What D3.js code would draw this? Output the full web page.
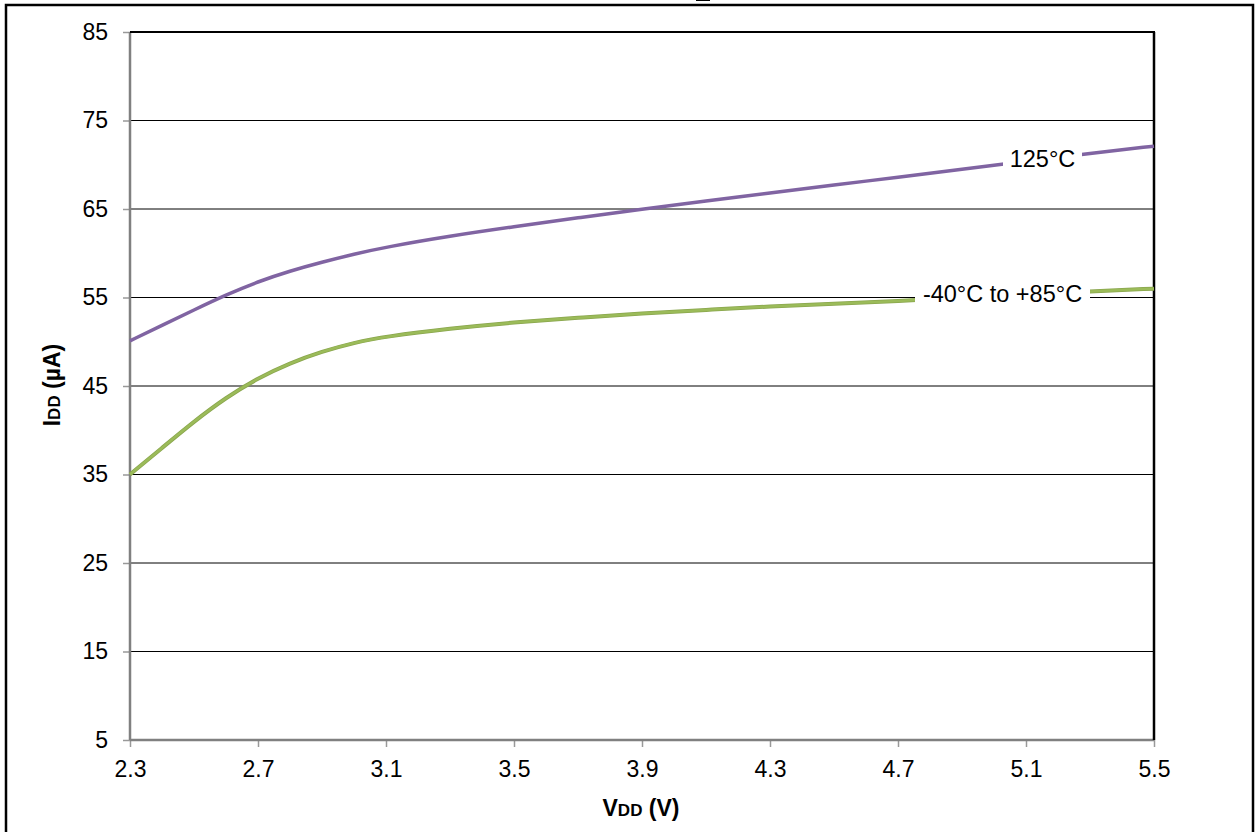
<!DOCTYPE html>
<html><head><meta charset="utf-8">
<script src="https://cdn.jsdelivr.net/npm/d3@7"></script>
<style>body{margin:0;background:#fff}svg{display:block}text{font-family:"Liberation Sans",Arial,sans-serif}</style>
</head><body><svg id="c" width="1256" height="832"></svg>
<script>
const vdd = [2.3, 2.4, 2.5, 2.6, 2.7, 2.8, 2.9, 3.0, 3.1, 3.3, 3.5, 3.7, 3.9, 4.1, 4.3, 4.5, 4.7, 4.9, 5.1, 5.3, 5.5];
const idd125 = [50.1, 51.85, 53.6, 55.3, 56.8, 58.0, 59.0, 59.9, 60.7, 61.95, 63.0, 64.0, 65.0, 65.9, 66.8, 67.7, 68.6, 69.5, 70.4, 71.3, 72.1];
const iddLow = [35.0, 38.0, 41.0, 43.7, 45.9, 47.6, 48.9, 49.9, 50.6, 51.5, 52.2, 52.7, 53.2, 53.6, 54.0, 54.3, 54.6, 55.0, 55.3, 55.7, 56.0];
const xTicks = [2.3, 2.7, 3.1, 3.5, 3.9, 4.3, 4.7, 5.1, 5.5];
const yTicks = [5, 15, 25, 35, 45, 55, 65, 75, 85];

const svg = d3.select("#c");
const L = 130, R = 1154, T = 32, B = 740;
const x = d3.scaleLinear().domain([2.3, 5.5]).range([L, R]);
const y = d3.scaleLinear().domain([5, 85]).range([B, T]);

// outer frame
svg.append("rect").attr("x", 6).attr("y", 5).attr("width", 1247).attr("height", 832)
  .attr("fill", "none").attr("stroke", "#000").attr("stroke-width", 2.5);
svg.append("rect").attr("x", 696).attr("y", -2).attr("width", 14).attr("height", 3)
  .attr("fill", "#000");

// gridlines
svg.append("g").selectAll("line").data(yTicks.slice(1)).join("line")
  .attr("x1", L).attr("x2", R).attr("y1", d => y(d)).attr("y2", d => y(d))
  .attr("stroke", "#000").attr("stroke-width", 1);

// axes
const yAxis = svg.append("g").attr("transform", `translate(${L},0)`)
  .call(d3.axisLeft(y).tickValues(yTicks).tickSize(7).tickPadding(15).tickFormat(d3.format("d")));
const xAxis = svg.append("g").attr("transform", `translate(0,${B})`)
  .call(d3.axisBottom(x).tickValues(xTicks).tickSize(7).tickPadding(14).tickFormat(d3.format(".1f")));
[yAxis, xAxis].forEach(g => {
  g.select(".domain").remove();
  g.selectAll(".tick line").attr("stroke", "#999").attr("stroke-width", 1.5);
  g.selectAll("text").attr("font-size", 23).attr("fill", "#000");
});
// frame lines
svg.append("line").attr("x1", L).attr("x2", L).attr("y1", T).attr("y2", B).attr("stroke", "#808080").attr("stroke-width", 2.5);
svg.append("line").attr("x1", L).attr("x2", R).attr("y1", B).attr("y2", B).attr("stroke", "#808080").attr("stroke-width", 2.5);
svg.append("line").attr("x1", L).attr("x2", R + 1).attr("y1", T).attr("y2", T).attr("stroke", "#000").attr("stroke-width", 2);
svg.append("line").attr("x1", R).attr("x2", R).attr("y1", T).attr("y2", B).attr("stroke", "#000").attr("stroke-width", 2.5);

// curves
const line = d3.line().x(d => x(d[0])).y(d => y(d[1])).curve(d3.curveBasis);
svg.append("path").datum(vdd.map((v, i) => [v, idd125[i]])).attr("d", line)
  .attr("fill", "none").attr("stroke", "#8064a2").attr("stroke-width", 3.5);
svg.append("path").datum(vdd.map((v, i) => [v, iddLow[i]])).attr("d", line)
  .attr("fill", "none").attr("stroke", "#8aa64e").attr("stroke-width", 4);
svg.append("path").datum(vdd.map((v, i) => [v, iddLow[i]])).attr("d", line)
  .attr("fill", "none").attr("stroke", "#9bbb59").attr("stroke-width", 2.5);

// labels with white boxes
function label(txt, x0, x1, base) {
  svg.append("rect").attr("x", x0).attr("y", base - 22).attr("width", x1 - x0).attr("height", 30).attr("fill", "#fff");
  svg.append("text").attr("x", (x0 + x1) / 2).attr("y", base).attr("text-anchor", "middle")
    .attr("font-size", 23.5).text(txt);
}
label("125°C", 1003, 1082, 167);
label("-40°C to +85°C", 915, 1090, 302);

// axis titles
const xt = svg.append("text").attr("x", 641).attr("y", 816).attr("text-anchor", "middle")
  .attr("font-size", 23).attr("font-weight", "bold");
xt.append("tspan").text("V");
xt.append("tspan").attr("font-size", 17).text("DD");
xt.append("tspan").text(" (V)");
const yt = svg.append("text").attr("transform", "translate(60,385) rotate(-90)").attr("text-anchor", "middle")
  .attr("font-size", 23).attr("font-weight", "bold");
yt.append("tspan").text("I");
yt.append("tspan").attr("font-size", 17).text("DD");
yt.append("tspan").text(" (µA)");
</script></body></html>
